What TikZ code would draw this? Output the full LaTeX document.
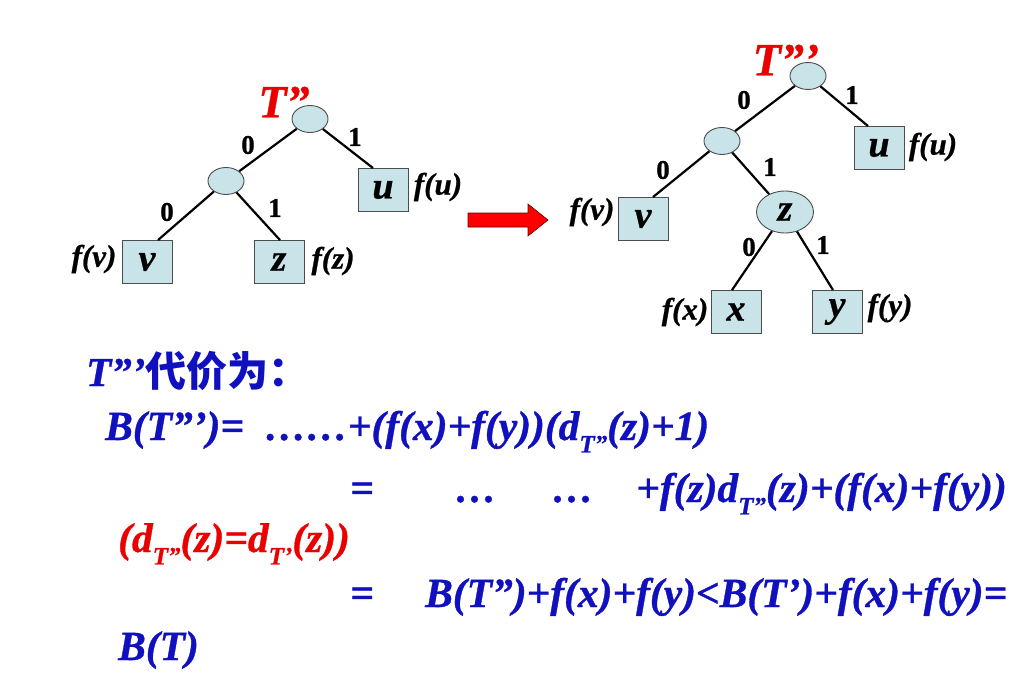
\documentclass[tikz,border=0pt]{standalone}
\usepackage{fontspec}
\usetikzlibrary{shapes.geometric}
\setmainfont{Liberation Serif}
\newfontfamily\tnr{Liberation Serif}[FakeBold=0.8]
\newfontfamily\cjk{Noto Sans CJK SC}
\definecolor{tblue}{RGB}{16,16,190}
\definecolor{tred}{RGB}{235,0,0}
\definecolor{nodefill}{RGB}{200,228,232}
\newcommand\sbT[1]{\raisebox{-0.3em}{\fontsize{25}{25}\selectfont T#1}}
\tikzset{
  leaf/.style={draw=black!70, line width=0.9pt, fill=nodefill, minimum width=50pt, minimum height=43pt, inner sep=0pt,
    font=\tnr\bfseries\itshape\fontsize{38}{38}\selectfont},
  inode/.style={ellipse, draw=black!70, line width=0.9pt, fill=nodefill, minimum width=36pt, minimum height=27pt, inner sep=0pt,
    font=\tnr\bfseries\itshape\fontsize{38}{38}\selectfont},
  tedge/.style={line width=2.2pt},
  bit/.style={font=\tnr\bfseries\fontsize{27}{27}\selectfont, inner sep=0pt},
  wt/.style={font=\tnr\bfseries\itshape\fontsize{31}{31}\selectfont, inner sep=0pt},
  tname/.style={text=tred, font=\tnr\bfseries\itshape\fontsize{46}{46}\selectfont, inner sep=0pt},
  eq/.style={text=tblue, font=\tnr\bfseries\itshape\fontsize{41.5}{41.5}\selectfont, inner sep=0pt, anchor=base west},
  eqred/.style={eq, text=tred},
}
\begin{document}
\begin{tikzpicture}[x=1pt,y=-1pt]
\fill[white] (0,0) rectangle (1023,682);
\useasboundingbox (0,0) rectangle (1023,682);

% ---------- left tree T''
\node[inode] (r1) at (310,119) {};
\node[inode] (n1) at (226,181) {};
\node[leaf] (u1) at (383,190) {u};
\node[leaf] (v1) at (147,262) {v};
\node[leaf] (z1) at (279,262) {z};
\node[tname] (t1) at (284,102) {T”};
\draw[tedge] (r1) -- ([xshift=-10pt]u1.north);
\draw[tedge] (r1) -- (n1);
\draw[tedge] (n1) -- ([xshift=11pt]v1.north);
\draw[tedge] (n1) -- ([xshift=1pt]z1.north);
\node[bit] (b1) at (248,145) {0};
\node[bit] (b2) at (355,137) {1};
\node[bit] (b3) at (167,212) {0};
\node[bit] (b4) at (275,208) {1};
\node[wt] (fv1) at (94,259) {f(v)};
\node[wt] (fz1) at (333,261) {f(z)};
\node[wt] (fu1) at (438,187) {f(u)};

% ---------- arrow
\draw[draw=black!60!red, fill=red, line width=0.6pt]
  (468,213) -- (528,213) -- (528,204) -- (548,220) -- (528,236) -- (528,227) -- (468,227) -- cycle;

% ---------- right tree T'''
\node[inode] (r2) at (808,76) {};
\node[inode] (n2) at (722,141) {};
\node[leaf] (u2) at (879,148) {u};
\node[leaf] (v2) at (643,219) {v};
\node[inode, minimum width=57pt, minimum height=42pt] (z2) at (785,212) {z};
\node[leaf] (x2) at (736,312) {x};
\node[leaf] (y2) at (837,312) {y};
\node[tname] (t2) at (786,60) {T”’};
\draw[tedge] (r2) -- ([xshift=-11pt]u2.north);
\draw[tedge] (r2) -- (n2);
\draw[tedge] (n2) -- ([xshift=10pt]v2.north);
\draw[tedge] (n2) -- (z2);
\draw[tedge] (z2) -- ([xshift=-4pt]x2.north);
\draw[tedge] (z2) -- ([xshift=-4pt]y2.north);
\node[bit] (c1) at (744,100) {0};
\node[bit] (c2) at (852,95) {1};
\node[bit] (c3) at (663,170) {0};
\node[bit] (c4) at (770,167) {1};
\node[bit] (c5) at (749,247) {0};
\node[bit] (c6) at (823,245) {1};
\node[wt] (fv2) at (592,212) {f(v)};
\node[wt] (fu2) at (933,147) {f(u)};
\node[wt] (fx2) at (685,312) {f(x)};
\node[wt] (fy2) at (890,308) {f(y)};

% ---------- text
\node[eq, font=\tnr\bfseries\itshape\fontsize{41}{41}\selectfont] (h) at (86,386) {T”’{\cjk\bfseries\fontsize{41}{41}\selectfont 代价为：}};
\node[eq] (l1) at (105,440) {B(T”’)=\ \ ……+(f(x)+f(y))(d\sbT{”}(z)+1)};
\node[eq] (l2a) at (350,502) {=};
\node[eq] (l2b) at (455,502) {…};
\node[eq] (l2c) at (552,502) {…};
\node[eq] (l2d) at (636,502) {+f(z)d\sbT{”}(z)+(f(x)+f(y))};
\node[eqred] (l3) at (118,552) {(d\sbT{”}(z)=d\sbT{’}(z))};
\node[eq] (l4a) at (350,607) {=};
\node[eq] (l4b) at (425,607) {B(T”)+f(x)+f(y)<B(T’)+f(x)+f(y)=};
\node[eq] (l5) at (118,660) {B(T)};
\end{tikzpicture}
\end{document}
